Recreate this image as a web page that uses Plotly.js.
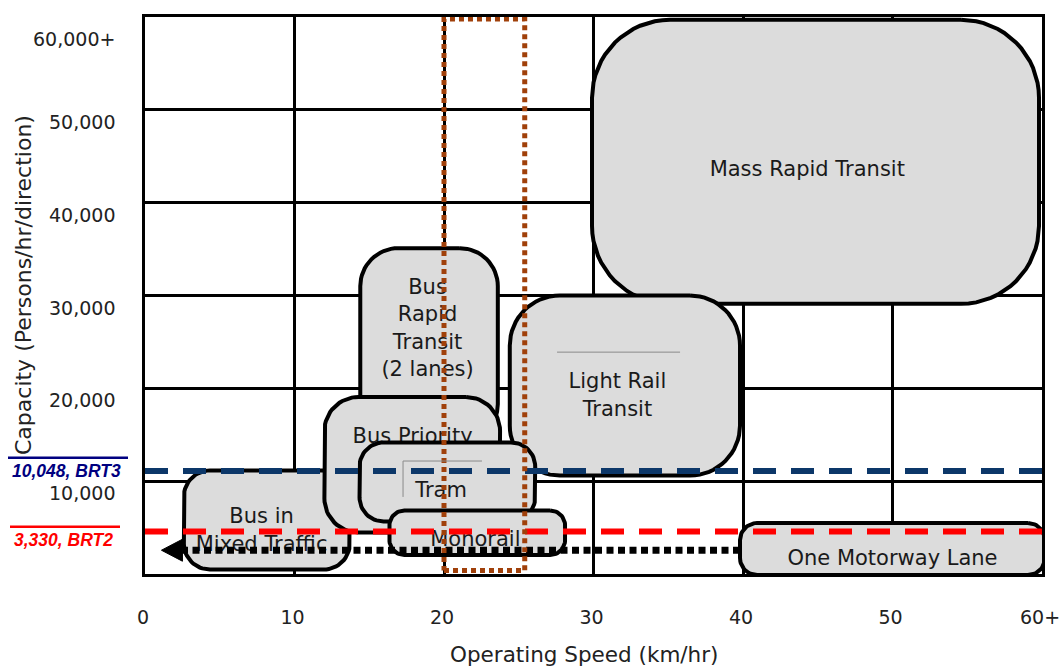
<!DOCTYPE html>
<html><head><meta charset="utf-8">
<script src="https://cdn.plot.ly/plotly-3.0.1.min.js"></script>
<style>html,body{margin:0;padding:0;background:#fff}#chart{width:1060px;height:666px}</style>
</head><body><div id="chart"></div>
<script>
// ---------------- data ----------------
const modeNames = ['Mass Rapid Transit', 'Light Rail<br>Transit', 'Bus<br>Rapid<br>Transit<br>(2 lanes)',
  'Bus in<br>Mixed Traffic', 'Bus Priority', 'Tram', 'Monorail', 'One Motorway Lane'];
const speedLow  = [29.9, 24.4, 14.4, 2.6, 12.0, 14.35, 16.35, 39.8];
const speedHigh = [59.8, 39.8, 23.6, 13.7, 23.75, 26.1, 28.1, 60.2];
const capLow    = [29100, 10600, 14200, 480, 4470, 5660, 2050, -110];
const capHigh   = [59700, 30000, 35100, 11150, 19070, 14170, 6840, 5490];
const labelSpeed = [44.3, 31.6, 18.9, 7.8, 17.9, 19.8, 22.1, 50.0];
const labelCap   = [43400, 19100, 26300, 4550, 14650, 8830, 3610, 1560];

const xTickVals = [0, 10, 20, 30, 40, 50, 60];
const xTickText = ['0', '10', '20', '30', '40', '50', '60+'];
const yTickVals = [10000, 20000, 30000, 40000, 50000, 60000];
const yTickText = ['10,000', '20,000', '30,000', '40,000', '50,000', '60,000+'];
const yGridVals = [0, 10000, 20000, 30000, 40000, 50000, 60000];

const thresholdNames = ['10,048, BRT3', '3,330, BRT2'];
const thresholdCap   = [11100, 4580];

const arrowCap = 2560;
const arrowSpeed = [39.8, 1.1];

const corridorSpeed = [20.0, 25.4];
const corridorCap   = [380, 59790];

// faint guide lines left in the source picture
const guideSpeed = [[27.56, 35.79], [17.26, 22.54], [17.26, 17.26]];
const guideCap   = [[23900, 23900], [12170, 12170], [12170, 8300]];

// ---------------- styles ----------------
const W = 1060, H = 666;
const M = {l: 145, r: 18, t: 17, b: 92};
const pxX = (W - M.l - M.r) / 60;
const pxY = (H - M.t - M.b) / 60000;
const cornerPx = [78, 50, 38, 26, 34, 24, 15, 17];
const boxFill = '#dcdcdc';
const textFont = {family: 'DejaVu Sans, Verdana, sans-serif', size: 21, color: '#1a1a1a'};
const tickFont = {family: 'DejaVu Sans, Verdana, sans-serif', size: 19, color: '#222'};
const titleFont = {family: 'DejaVu Sans, Verdana, sans-serif', size: 21.5, color: '#222'};
const yTitleFont = {family: 'DejaVu Sans, Verdana, sans-serif', size: 22, color: '#222'};
const thresholdColors = ['#0c3769', '#ff0000'];
const thresholdLabelColors = ['#000080', '#ff0000'];

function roundRect(x0, x1, y0, y1, rpx) {
  const rx = rpx / pxX, ry = rpx / pxY, N = 16;
  const xs = [], ys = [];
  const arc = (cx, cy, a0, a1) => {
    for (let k = 0; k <= N; k++) {
      const a = a0 + (a1 - a0) * k / N;
      xs.push(cx + rx * Math.cos(a)); ys.push(cy + ry * Math.sin(a));
    }
  };
  const P = Math.PI;
  arc(x1 - rx, y1 - ry, P / 2, 0);
  arc(x1 - rx, y0 + ry, 0, -P / 2);
  arc(x0 + rx, y0 + ry, -P / 2, -P);
  arc(x0 + rx, y1 - ry, P, P / 2);
  xs.push(xs[0]); ys.push(ys[0]);
  return {xs, ys};
}

const traces = [];
modeNames.forEach((name, i) => {
  const r = roundRect(speedLow[i], speedHigh[i], capLow[i], capHigh[i], cornerPx[i]);
  traces.push({x: r.xs, y: r.ys, type: 'scatter', mode: 'lines', fill: 'toself',
    fillcolor: boxFill, line: {color: '#000', width: 4}, hoverinfo: 'skip'});
  traces.push({x: [labelSpeed[i]], y: [labelCap[i]], type: 'scatter', mode: 'text',
    text: [name], textposition: 'middle center', textfont: textFont, hoverinfo: 'skip'});
});

// threshold dashed lines
thresholdCap.forEach((c, i) => {
  traces.push({x: [0, 60], y: [c, c], type: 'scatter', mode: 'lines',
    line: {color: thresholdColors[i], width: 6, dash: '23px,15px'}, hoverinfo: 'skip'});
});

// dotted arrow
const headLen = 21 / pxX, headHalf = 11 / pxY;
traces.push({x: [arrowSpeed[0], arrowSpeed[1] + headLen], y: [arrowCap, arrowCap], type: 'scatter',
  mode: 'lines', line: {color: '#000', width: 7, dash: '7px,4.5px'}, hoverinfo: 'skip'});
traces.push({x: [arrowSpeed[1], arrowSpeed[1] + headLen, arrowSpeed[1] + headLen, arrowSpeed[1]],
  y: [arrowCap, arrowCap + headHalf, arrowCap - headHalf, arrowCap], type: 'scatter', mode: 'lines',
  fill: 'toself', fillcolor: '#000', line: {color: '#000', width: 1}, hoverinfo: 'skip'});

// brown dotted corridor
traces.push({x: [corridorSpeed[0], corridorSpeed[1], corridorSpeed[1], corridorSpeed[0], corridorSpeed[0]],
  y: [corridorCap[0], corridorCap[0], corridorCap[1], corridorCap[1], corridorCap[0]], type: 'scatter',
  mode: 'lines', line: {color: '#a0400a', width: 5, dash: '5px,4px'}, hoverinfo: 'skip'});

const shapes = [];
guideSpeed.forEach((gx, i) => {
  shapes.push({type: 'line', xref: 'x', yref: 'y', x0: gx[0], x1: gx[1], y0: guideCap[i][0], y1: guideCap[i][1],
    line: {color: '#8a8a8a', width: 1}});
});
// underlines of the threshold labels
const pw = W - M.l - M.r, ph = H - M.t - M.b;
const ulPx = [[8, 128, 457.7], [10, 120, 526.7]];
ulPx.forEach((u, i) => {
  shapes.push({type: 'line', xref: 'paper', yref: 'paper',
    x0: (u[0] - M.l) / pw, x1: (u[1] - M.l) / pw,
    y0: (H - M.b - u[2]) / ph, y1: (H - M.b - u[2]) / ph,
    line: {color: thresholdLabelColors[i], width: 2.5}});
});

const annotations = [];
yTickVals.forEach((v, i) => {
  annotations.push({xref: 'paper', x: 0, xanchor: 'right', xshift: -28, yref: 'y', y: v,
    yshift: i === yTickVals.length - 1 ? -22 : -12, yanchor: 'middle',
    text: yTickText[i], showarrow: false, font: tickFont});
});
const thrLabelX = [-0.087, -0.0914];
const thrLabelShift = [0, -8.5];
thresholdNames.forEach((t, i) => {
  annotations.push({xref: 'paper', x: thrLabelX[i], xanchor: 'center', yref: 'y', y: thresholdCap[i],
    yshift: thrLabelShift[i], yanchor: 'middle', text: '<b><i>' + t + '</i></b>', showarrow: false,
    font: {family: 'Liberation Sans, Arial, sans-serif', size: 17.5, color: thresholdLabelColors[i]}});
});
annotations.push({xref: 'paper', yref: 'paper', x: (584 - M.l) / pw, y: (H - M.b - 654) / ph,
  xanchor: 'center', yanchor: 'middle',
  text: 'Operating Speed (km/hr)', showarrow: false, font: titleFont});
annotations.push({xref: 'paper', yref: 'paper', x: (23 - M.l) / pw, y: (H - M.b - 285) / ph,
  xanchor: 'center', yanchor: 'middle',
  textangle: -90, text: 'Capacity (Persons/hr/direction)', showarrow: false, font: yTitleFont});

const layout = {
  width: W, height: H, margin: M, showlegend: false,
  paper_bgcolor: '#fff', plot_bgcolor: '#fff',
  xaxis: {range: [0, 60.0001], tickmode: 'array', tickvals: xTickVals, ticktext: xTickText,
    showgrid: true, gridcolor: '#000', gridwidth: 3, zeroline: false,
    showline: true, mirror: true, linecolor: '#000', linewidth: 3, ticks: '',
    tickfont: tickFont, ticklabelstandoff: 24, ticklabelshift: -2, ticklabeloverflow: 'allow', fixedrange: true},
  yaxis: {range: [0, 60000], tickmode: 'array', tickvals: yGridVals, showticklabels: false,
    showgrid: true, gridcolor: '#000', gridwidth: 3, zeroline: false,
    showline: true, mirror: true, linecolor: '#000', linewidth: 3, ticks: '', fixedrange: true},
  shapes, annotations
};

Plotly.newPlot('chart', traces, layout, {displayModeBar: false, staticPlot: true});
</script></body></html>
